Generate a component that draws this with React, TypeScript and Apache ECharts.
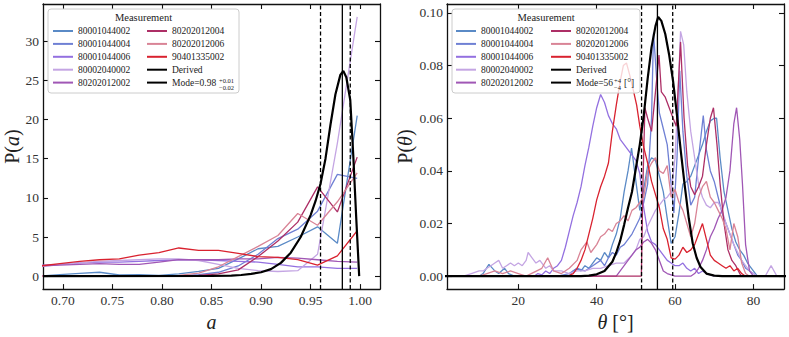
import React, { useEffect, useRef } from 'react';
import * as echarts from 'echarts';

const FONT = "'Liberation Serif', 'DejaVu Serif', serif";

const names = ['80001044002', '80001044004', '80001044006', '80002040002', '80202012002', '80202012004', '80202012006', '90401335002'];
const colors = ['#5a8ac6', '#6f80d4', '#9370e0', '#c4a5e3', '#a057b5', '#ad2f66', '#d98496', '#d9222f'];

// Left panel: spin a
const aBins = [0.677, 0.697, 0.717, 0.737, 0.757, 0.777, 0.797, 0.817, 0.837, 0.857, 0.877, 0.897, 0.917, 0.937, 0.957, 0.977, 0.997];
const pa_80001044002 = [0, 0.2, 0.35, 0.5, 0.15, 0.2, 0.1, 0.3, 0.6, 1.0, 2.2, 3.5, 3.8, 5.0, 6.3, 4.2, 20.5];
const pa_80001044004 = [0, 0, 0, 0, 0, 0, 0, 0.05, 0.2, 0.5, 1.3, 2.8, 4.8, 6.0, 8.3, 13.0, 12.5];
const pa_80001044006 = [1.4, 1.5, 1.7, 1.8, 1.8, 1.9, 2.0, 2.1, 2.1, 2.0, 1.9, 1.8, 1.5, 1.2, 1.2, 1.0, 1.0];
const pa_80002040002 = [1.2, 1.5, 1.7, 1.9, 2.0, 2.1, 2.2, 2.2, 2.0, 1.5, 1.0, 0.7, 0.6, 0.7, 2.8, 17, 33.1];
const pa_80202012002 = [1.3, 1.4, 1.5, 1.6, 1.5, 1.5, 1.8, 2.1, 2.1, 2.1, 2.2, 2.2, 2.4, 2.3, 2.1, 1.9, 1.8];
const pa_80202012004 = [0, 0, 0, 0, 0, 0, 0, 0, 0.1, 0.3, 0.8, 2.5, 4.5, 6.9, 11.4, 8.2, 15.2];
const pa_80202012006 = [0, 0, 0, 0, 0, 0, 0, 0.1, 0.4, 1.2, 2.5, 3.8, 5.2, 8.0, 6.5, 9.5, 13.2];
const pa_90401335002 = [1.3, 1.6, 1.9, 2.1, 2.2, 2.7, 3.0, 3.6, 3.3, 3.3, 2.9, 2.5, 2.4, 2.1, 1.4, 2.6, 5.8];
const leftValues = [pa_80001044002, pa_80001044004, pa_80001044006, pa_80002040002, pa_80202012002, pa_80202012004, pa_80202012006, pa_90401335002];

const derivedA = [0.68, 0.85, 0.87, 0.88, 0.89, 0.90, 0.91, 0.92, 0.93, 0.94, 0.95, 0.955, 0.96, 0.965, 0.97, 0.975, 0.98, 0.983, 0.986, 0.99, 0.993, 0.996, 0.999];
const derivedPA = [0, 0.03, 0.08, 0.15, 0.3, 0.5, 0.9, 1.7, 3.0, 5.0, 7.8, 9.6, 11.8, 15.0, 19.3, 23.2, 25.7, 26.2, 25.4, 22.5, 15.5, 7.5, 0];
const modeA = 0.982;
const boundsA = [0.960, 0.990];

// Right panel: inclination theta
const pt_80001044002 = [[10, 0], [11, 0.001], [12.5, 0.0045], [14, 0.002], [15, 0.001], [16.5, 0.003], [17.5, 0.001], [19, 0], [33, 0], [34, 0.002], [35, 0.003], [36, 0.002], [37, 0.004], [38, 0.003], [39, 0.005], [40, 0.007], [41, 0.006], [42, 0.009], [43, 0.007], [44, 0.012], [45, 0.016], [46, 0.022], [47, 0.032], [48, 0.04], [48.9, 0.0487], [50, 0.036], [51, 0.025], [52, 0.033], [53, 0.042], [54, 0.045], [55, 0.044], [56, 0.038], [57, 0.032], [58, 0.022], [59, 0.0125], [60, 0.015], [61, 0.024], [62, 0.035], [63, 0.036], [64, 0.038], [65, 0.042], [66, 0.046], [67, 0.05], [68, 0.055], [69, 0.059], [70, 0.06], [70.6, 0.06], [71.5, 0.045], [72.5, 0.032], [73.5, 0.025], [74.5, 0.018], [75.5, 0.013], [76.5, 0.01], [77.5, 0.008], [78.5, 0.005], [79.5, 0.003], [81, 0]];
const pt_80001044004 = [[30, 0], [33, 0.001], [35, 0.003], [37, 0.002], [39, 0.004], [41, 0.006], [42, 0.004], [43, 0.007], [44, 0.009], [45, 0.008], [46, 0.011], [47, 0.012], [48, 0.014], [49, 0.016], [50, 0.019], [51, 0.022], [52, 0.028], [53, 0.035], [54, 0.06], [54.5, 0.0925], [55.3, 0.075], [56, 0.062], [57, 0.056], [58, 0.05], [59, 0.035], [59.7, 0.024], [60.5, 0.045], [61.2, 0.078], [62, 0.055], [63, 0.038], [64, 0.027], [65, 0.03], [66, 0.045], [67.2, 0.061], [68, 0.048], [69, 0.04], [70, 0.036], [71, 0.03], [72, 0.024], [73, 0.02], [74, 0.016], [75, 0.012], [76, 0.008], [77, 0.006], [78, 0.003], [80, 0.001], [81, 0]];
const pt_80001044006 = [[20, 0], [24, 0], [25, 0.001], [26, 0.0005], [27, 0.002], [28, 0.001], [29, 0.003], [30, 0.004], [31, 0.006], [32, 0.011], [33, 0.017], [34, 0.023], [35, 0.028], [36, 0.034], [37, 0.042], [38, 0.049], [39, 0.057], [40, 0.064], [41, 0.069], [42, 0.066], [43, 0.061], [44, 0.058], [45, 0.056], [46, 0.052], [47, 0.05], [48, 0.048], [49, 0.046], [50, 0.044], [51, 0.039], [52, 0.026], [53, 0.017], [54, 0.013], [55, 0.012], [56, 0.01], [57, 0.008], [58, 0.006], [59, 0.005], [60, 0.004], [61, 0.004], [62, 0.005], [63, 0.003], [64, 0.002], [65, 0.003], [66, 0.001], [67, 0.002], [68, 0.001], [70, 0]];
const pt_80002040002 = [[6, 0], [8, 0.001], [10, 0.002], [11, 0.002], [12, 0.003], [13, 0.004], [14, 0.005], [15, 0.006], [16, 0.003], [17, 0.004], [18, 0.005], [19, 0.004], [20, 0.005], [21, 0.004], [22, 0.006], [22.5, 0.009], [23.5, 0.007], [24.5, 0.005], [25.5, 0.006], [27, 0.003], [28, 0.004], [29, 0.002], [31, 0.002], [33, 0.001], [35, 0.002], [37, 0.002], [39, 0.003], [41, 0.003], [43, 0.004], [45, 0.005], [47, 0.005], [49, 0.008], [50, 0.01], [51, 0.014], [52, 0.015], [53, 0.019], [54, 0.022], [55, 0.025], [56, 0.027], [57, 0.029], [58, 0.03], [59, 0.032], [60, 0.045], [60.8, 0.07], [61.4, 0.093], [62.2, 0.088], [63, 0.07], [64, 0.055], [65, 0.045], [66, 0.035], [67, 0.03], [68, 0.027], [69, 0.026], [70, 0.028], [71, 0.028], [72, 0.025], [73, 0.02], [74, 0.016], [75, 0.012], [76, 0.009], [77, 0.006], [78, 0.004], [79, 0.002], [80, 0.001], [81, 0], [83, 0], [84.5, 0.004], [86, 0]];
const pt_80202012002 = [[30, 0], [45, 0], [46, 0.002], [47, 0.004], [48, 0.006], [49, 0.008], [50, 0.01], [51, 0.011], [52, 0.013], [53, 0.014], [54, 0.0125], [55, 0.01], [56, 0.006], [57, 0.002], [58, 0.001], [60, 0], [64, 0], [65, 0.001], [66, 0.003], [67, 0.006], [68, 0.01], [69, 0.015], [70, 0.018], [71, 0.022], [72, 0.025], [73, 0.03], [74, 0.04], [75, 0.058], [75.7, 0.064], [76.5, 0.052], [77.2, 0.035], [78, 0.012], [79, 0.002], [80, 0]];
const pt_80202012004 = [[30, 0], [51.4, 0], [51.8, 0.035], [52.3, 0.064], [53, 0.06], [54, 0.055], [55, 0.07], [55.9, 0.084], [56.5, 0.07], [57.5, 0.068], [58.5, 0.064], [59.5, 0.06], [60.3, 0.057], [61.4, 0.089], [62.3, 0.06], [63.2, 0.042], [64, 0.034], [65, 0.031], [66, 0.034], [67, 0.038], [68, 0.05], [69, 0.06], [69.8, 0.064], [70.7, 0.05], [71.5, 0.035], [72.5, 0.02], [73.5, 0.01], [74.5, 0.006], [75.5, 0.004], [76.5, 0.001], [77, 0]];
const pt_80202012006 = [[10, 0], [12, 0.001], [14, 0.002], [16, 0.001], [18, 0.002], [20, 0.001], [22, 0], [26, 0.003], [27.5, 0.007], [29, 0.002], [31, 0.001], [33, 0.003], [35, 0.006], [36, 0.01], [37.5, 0.013], [38.5, 0.009], [40, 0.012], [41, 0.015], [42, 0.016], [43, 0.018], [44, 0.017], [45, 0.02], [46, 0.021], [47, 0.023], [48, 0.021], [49, 0.025], [50, 0.026], [51, 0.028], [52, 0.03], [53, 0.04], [54, 0.043], [55, 0.045], [56, 0.04], [57, 0.039], [58, 0.042], [59, 0.03], [60, 0.033], [61, 0.028], [62, 0.025], [63, 0.02], [64, 0.015], [65, 0.02], [66, 0.03], [67, 0.034], [68, 0.036], [69, 0.03], [70, 0.028], [71, 0.025], [72, 0.022], [73, 0.018], [74, 0.01], [75, 0.02], [76, 0.015], [77, 0.005], [78, 0.001], [79, 0]];
const pt_90401335002 = [[30, 0], [32.7, 0], [34, 0.001], [35, 0.003], [36, 0.006], [37, 0.01], [38, 0.016], [39, 0.022], [40, 0.029], [41, 0.034], [42, 0.038], [43, 0.043], [44, 0.055], [45, 0.065], [46, 0.074], [46.8, 0.08], [47.6, 0.081], [48.5, 0.076], [49.3, 0.071], [50.2, 0.065], [51, 0.057], [52, 0.049], [53, 0.043], [54, 0.036], [55, 0.031], [56, 0.026], [57, 0.018], [58, 0.014], [59, 0.007], [60, 0.0065], [61, 0.008], [62, 0.011], [63, 0.009], [64, 0.01], [65, 0.012], [66, 0.016], [67, 0.02], [68, 0.014], [69, 0.008], [70, 0.006], [71, 0.005], [72, 0.004], [73, 0.003], [74, 0.004], [75, 0.002], [76, 0.003], [77, 0.001], [78, 0]];
const rightValues = [pt_80001044002, pt_80001044004, pt_80001044006, pt_80002040002, pt_80202012002, pt_80202012004, pt_80202012006, pt_90401335002];

const derivedTheta = [[1, 0], [36, 0], [38, 0.0002], [40, 0.0007], [42, 0.002], [44, 0.0055], [45, 0.009], [46, 0.0135], [47, 0.0195], [48, 0.026], [49, 0.032], [50, 0.041], [51, 0.05], [52, 0.061], [53, 0.075], [54, 0.087], [55, 0.095], [55.7, 0.0985], [56.5, 0.097], [57.5, 0.092], [58.5, 0.084], [59.5, 0.074], [60.5, 0.061], [61.5, 0.047], [62.5, 0.034], [63.5, 0.022], [64.5, 0.0125], [65.5, 0.007], [66.5, 0.0035], [68, 0.001], [70, 0.0002], [72, 0], [89, 0]];
const modeT = 55.5;
const boundsT = [51.45, 59.4];

const xTicksA = [0.70, 0.75, 0.80, 0.85, 0.90, 0.95, 1.00];
const yTicksA = [0, 5, 10, 15, 20, 25, 30];
const xTicksT = [20, 40, 60, 80];
const yTicksT = [0, 0.02, 0.04, 0.06, 0.08, 0.10];

const xRangeA = [0.68, 1.02];
const yRangeA = [-1.65, 34.75];
const xRangeT = [1.8, 87.8];
const yRangeT = [-0.0049, 0.1034];

const col1 = names.slice(0, 5);

function buildOption() {
  const axisCommon = (ticks: number[], showLabels: boolean, digits: number) => ({
    type: 'value',
    axisLine: { onZero: false, lineStyle: { color: '#111', width: 1.3 } },
    axisTick: { inside: true, length: 5, customValues: ticks, lineStyle: { color: '#111', width: 1.1 } },
    axisLabel: {
      show: showLabels,
      customValues: ticks,
      formatter: (v: number) => v.toFixed(digits),
      fontFamily: FONT,
      fontSize: 13.5,
      color: '#333',
      margin: 4,
    },
    splitLine: { show: false },
  });
  const nameStyle = {
    fontFamily: FONT,
    fontSize: 20,
    color: '#222',
    rich: { i: { fontFamily: FONT, fontSize: 20, fontStyle: 'italic', color: '#222' } },
  };

  const xAxis = [
    { ...axisCommon(xTicksA, true, 2), gridIndex: 0, min: xRangeA[0], max: xRangeA[1], position: 'bottom', name: '{i|a}', nameLocation: 'middle', nameGap: 14, nameTextStyle: nameStyle },
    { ...axisCommon(xTicksA, false, 2), gridIndex: 0, min: xRangeA[0], max: xRangeA[1], position: 'top' },
    { ...axisCommon(xTicksT, true, 0), gridIndex: 1, min: xRangeT[0], max: xRangeT[1], position: 'bottom', name: '{i|θ} [°]', nameLocation: 'middle', nameGap: 15, nameTextStyle: nameStyle },
    { ...axisCommon(xTicksT, false, 0), gridIndex: 1, min: xRangeT[0], max: xRangeT[1], position: 'top' },
  ];
  const yAxis = [
    { ...axisCommon(yTicksA, true, 0), gridIndex: 0, min: yRangeA[0], max: yRangeA[1], position: 'left', name: 'P({i|a})', nameLocation: 'middle', nameGap: 19, nameTextStyle: nameStyle },
    { ...axisCommon(yTicksA, false, 0), gridIndex: 0, min: yRangeA[0], max: yRangeA[1], position: 'right' },
    { ...axisCommon(yTicksT, true, 2), gridIndex: 1, min: yRangeT[0], max: yRangeT[1], position: 'left', name: 'P({i|θ})', nameLocation: 'middle', nameGap: 30, nameTextStyle: nameStyle },
    { ...axisCommon(yTicksT, false, 2), gridIndex: 1, min: yRangeT[0], max: yRangeT[1], position: 'right' },
  ];

  const series: any[] = [];
  names.forEach((n, k) => {
    series.push({
      type: 'line', name: n, xAxisIndex: 0, yAxisIndex: 0, symbol: 'none',
      lineStyle: { color: colors[k], width: 1.3 }, itemStyle: { color: colors[k] },
      data: aBins.map((x, i) => [x, leftValues[k][i]]), z: 2,
    });
    series.push({
      type: 'line', name: n, xAxisIndex: 2, yAxisIndex: 2, symbol: 'none',
      lineStyle: { color: colors[k], width: 1.3 }, itemStyle: { color: colors[k] },
      data: rightValues[k], z: 2,
    });
  });
  series.push({
    type: 'line', name: 'Derived', xAxisIndex: 0, yAxisIndex: 0, symbol: 'none',
    lineStyle: { color: '#000', width: 2.2 }, itemStyle: { color: '#000' },
    data: derivedA.map((x, i) => [x, derivedPA[i]]), z: 3,
  });
  series.push({
    type: 'line', name: 'Derived', xAxisIndex: 2, yAxisIndex: 2, symbol: 'none',
    lineStyle: { color: '#000', width: 2.2 }, itemStyle: { color: '#000' },
    data: derivedTheta, z: 3,
  });
  series.push({
    type: 'line', name: 'Mode=0.98', xAxisIndex: 0, yAxisIndex: 0, symbol: 'none',
    lineStyle: { color: '#000', width: 1.3 }, itemStyle: { color: '#000' },
    data: [[modeA, yRangeA[0]], [modeA, yRangeA[1]]], z: 3,
  });
  series.push({
    type: 'line', name: 'Mode=56', xAxisIndex: 2, yAxisIndex: 2, symbol: 'none',
    lineStyle: { color: '#000', width: 1.3 }, itemStyle: { color: '#000' },
    data: [[modeT, yRangeT[0]], [modeT, yRangeT[1]]], z: 3,
  });
  boundsA.forEach((b) => series.push({
    type: 'line', name: 'boundA', xAxisIndex: 0, yAxisIndex: 0, symbol: 'none',
    lineStyle: { color: '#000', width: 1.3, type: [4, 2.5] },
    data: [[b, yRangeA[0]], [b, yRangeA[1]]], z: 3,
  }));
  boundsT.forEach((b) => series.push({
    type: 'line', name: 'boundT', xAxisIndex: 2, yAxisIndex: 2, symbol: 'none',
    lineStyle: { color: '#000', width: 1.3, type: [4, 2.5] },
    data: [[b, yRangeT[0]], [b, yRangeT[1]]], z: 3,
  }));

  const legendCommon = {
    orient: 'vertical', itemWidth: 20, itemHeight: 11, itemGap: 1.9, padding: 0,
    selectedMode: false, z: 110,
    itemStyle: { color: 'rgba(0,0,0,0)', borderWidth: 0, opacity: 0 },
    textStyle: { fontFamily: FONT, fontSize: 9.5, color: '#222', lineHeight: 11 },
  };
  const legend = [
    { ...legendCommon, data: col1, left: 52, top: 25.5 },
    { ...legendCommon, data: ['80202012004', '80202012006', '90401335002', 'Derived', 'Mode=0.98'], left: 146, top: 25.5 },
    { ...legendCommon, data: col1, left: 455, top: 25.5 },
    { ...legendCommon, data: ['80202012004', '80202012006', '90401335002', 'Derived', 'Mode=56'], left: 550, top: 25.5 },
  ];

  const small = { fontFamily: FONT, fontSize: 6.5, fill: '#222' };
  const graphic = [
    { type: 'rect', z: 100, shape: { x: 48, y: 9, width: 191, height: 84, r: 3 }, style: { fill: 'rgba(255,255,255,0.8)', stroke: '#cccccc', lineWidth: 1 } },
    { type: 'rect', z: 100, shape: { x: 452, y: 9, width: 188, height: 84, r: 3 }, style: { fill: 'rgba(255,255,255,0.8)', stroke: '#cccccc', lineWidth: 1 } },
    { type: 'text', z: 110, x: 143.5, y: 17, style: { text: 'Measurement', fontFamily: FONT, fontSize: 10.5, fill: '#222', align: 'center', verticalAlign: 'middle' } },
    { type: 'text', z: 110, x: 546, y: 17, style: { text: 'Measurement', fontFamily: FONT, fontSize: 10.5, fill: '#222', align: 'center', verticalAlign: 'middle' } },
    { type: 'text', z: 110, x: 219, y: 80, style: { ...small, text: '+0.01', verticalAlign: 'middle' } },
    { type: 'text', z: 110, x: 219, y: 87, style: { ...small, text: '−0.02', verticalAlign: 'middle' } },
    { type: 'text', z: 110, x: 614, y: 80, style: { ...small, text: '+4', verticalAlign: 'middle' } },
    { type: 'text', z: 110, x: 614, y: 87, style: { ...small, text: '−4', verticalAlign: 'middle' } },
    { type: 'text', z: 110, x: 624, y: 83, style: { fontFamily: FONT, fontSize: 9.5, fill: '#222', text: '[°]', verticalAlign: 'middle' } },
  ];

  return {
    animation: false,
    backgroundColor: '#fff',
    grid: [
      { left: 43, top: 4, width: 337, height: 289, show: false },
      { left: 447, top: 4, width: 337, height: 289, show: false },
    ],
    xAxis, yAxis, series, legend, graphic,
  };
}

export default function App() {
  const ref = useRef<HTMLDivElement>(null);
  useEffect(() => {
    const chart = echarts.init(ref.current as HTMLDivElement, null, { renderer: 'svg' });
    chart.setOption(buildOption() as any);
    return () => chart.dispose();
  }, []);
  return <div ref={ref} style={{ position: 'fixed', left: 0, top: 0, width: 789, height: 337 }} />;
}
